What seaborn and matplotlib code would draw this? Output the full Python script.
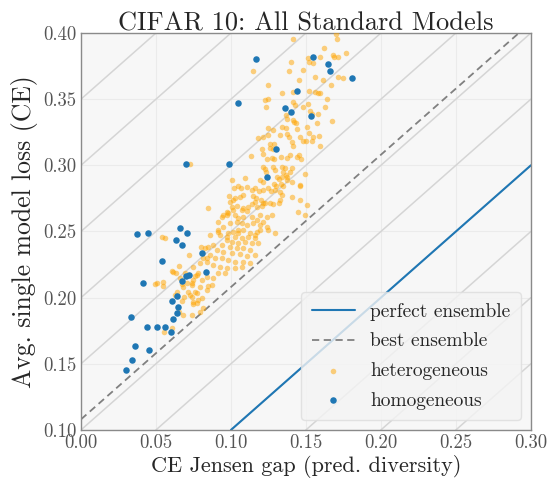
import numpy as np
import pandas as pd
import matplotlib
matplotlib.use('Agg')
import matplotlib.pyplot as plt
import seaborn as sns

# homogeneous ensembles (blue)
homo_gap = [0.1167, 0.1549, 0.1645, 0.1660, 0.1807, 0.1442, 0.1049, 0.1362, 0.1402, 0.1533,
            0.1303, 0.0698, 0.0988, 0.1243, 0.0375, 0.0448, 0.0662, 0.0705, 0.0635, 0.0675,
            0.0810, 0.0538, 0.0411, 0.0700, 0.0722, 0.0675, 0.0831, 0.0640, 0.0605, 0.0645,
            0.0640, 0.0615, 0.0333, 0.0438, 0.0509, 0.0558, 0.0600, 0.0362, 0.0455, 0.0337,
            0.0300]
homo_loss = [0.3802, 0.3817, 0.3769, 0.3711, 0.3658, 0.3565, 0.3473, 0.3434, 0.3402, 0.3376,
             0.3122, 0.3011, 0.3009, 0.2912, 0.2478, 0.2489, 0.2523, 0.2487, 0.2432, 0.2401,
             0.2336, 0.2275, 0.2113, 0.2166, 0.2168, 0.2122, 0.2192, 0.2013, 0.1975, 0.1932,
             0.1884, 0.1841, 0.1852, 0.1776, 0.1776, 0.1775, 0.1743, 0.1633, 0.1605, 0.1529,
             0.1455]

# heterogeneous ensembles (orange)
hetero_gap = [
    0.1700, 0.1709, 0.1415, 0.1620, 0.1515, 0.1593, 0.1678, 0.1687, 0.1715, 0.1765,
    0.1400, 0.1545, 0.1145, 0.1389, 0.1478, 0.1562, 0.1615, 0.1455, 0.1715, 0.1749,
    0.1245, 0.1665, 0.1342, 0.1522, 0.1562, 0.1582, 0.1593, 0.1642, 0.1229, 0.1247,
    0.1411, 0.1427, 0.1478, 0.1515, 0.1627, 0.1231, 0.1527, 0.1542, 0.1367, 0.1582,
    0.1375, 0.1411, 0.1420, 0.1433, 0.1571, 0.1671, 0.1342, 0.1442, 0.1505, 0.1375,
    0.1389, 0.1327, 0.1522, 0.1549, 0.1587, 0.1460, 0.1182, 0.1215, 0.1249, 0.1478,
    0.1500, 0.1538, 0.1409, 0.1593, 0.1260, 0.1287, 0.1415, 0.1411, 0.1367, 0.1249,
    0.1282, 0.1518,
    0.1131, 0.1209, 0.1211, 0.1260, 0.1282, 0.1238, 0.1271, 0.1289, 0.1331, 0.1371,
    0.1391, 0.1438, 0.1453, 0.1465, 0.1215, 0.1225, 0.1233, 0.1282, 0.1295, 0.1342,
    0.1349, 0.1409, 0.1491, 0.1367, 0.1375, 0.1093, 0.1007, 0.1193, 0.1211, 0.1305,
    0.1318, 0.1285, 0.1300, 0.1335, 0.1349, 0.1458, 0.1020, 0.1049, 0.1065, 0.1105,
    0.1142, 0.1160, 0.1189, 0.1215, 0.1249, 0.1265, 0.1293, 0.1327, 0.1338, 0.1405,
    0.0987, 0.1027, 0.1060, 0.1082, 0.1149, 0.1167, 0.1200, 0.1211, 0.1229, 0.1260,
    0.1282, 0.1322, 0.1005, 0.1038, 0.1082, 0.1115, 0.1138, 0.1158, 0.1175, 0.1205,
    0.1393, 0.1338, 0.1371, 0.1405, 0.1460, 0.1327, 0.1360,
    0.0727, 0.0849, 0.1015, 0.0938, 0.0971, 0.0993, 0.0982, 0.1015,
    0.1271, 0.1238, 0.1193, 0.1105, 0.1071, 0.0971, 0.1027, 0.1049, 0.1082, 0.1138,
    0.1171, 0.1215, 0.1238, 0.1193, 0.1149, 0.1105, 0.1071, 0.1038, 0.0993, 0.0949,
    0.0915, 0.0927, 0.0971, 0.1015, 0.1049, 0.1082, 0.1127, 0.1160, 0.1193, 0.1249,
    0.1293, 0.0949, 0.0915, 0.1449, 0.1493, 0.1505, 0.1460,
    0.0915, 0.0982, 0.1049, 0.1171, 0.1027, 0.1071, 0.1115, 0.1160, 0.0971, 0.1005,
    0.1049, 0.1093, 0.1138, 0.1182, 0.0938, 0.0993, 0.1038, 0.1082, 0.1127, 0.0882,
    0.0905, 0.0949, 0.1005, 0.1060, 0.1105, 0.1160, 0.0860, 0.0893, 0.0938, 0.0982,
    0.1027, 0.1082, 0.1127, 0.0838, 0.0882, 0.0927, 0.0971, 0.1027, 0.1071, 0.0915,
    0.0960, 0.0827, 0.0815, 0.0793, 0.0749, 0.0722, 0.0771, 0.0805, 0.0838, 0.0882,
    0.0871, 0.0838, 0.0793, 0.0749, 0.0738, 0.0771, 0.0805, 0.0771, 0.0749, 0.0782,
    0.0738, 0.0760, 0.0715, 0.0682, 0.0705, 0.0615, 0.0633, 0.0660, 0.0549, 0.0538,
    0.0560, 0.0860, 0.0849, 0.0738, 0.0793, 0.0815, 0.0682, 0.0605,
    0.0800, 0.0838, 0.0651, 0.0605, 0.0693, 0.0760, 0.0782, 0.0742, 0.0493, 0.0505,
    0.0549, 0.0671, 0.0849, 0.0727, 0.0638, 0.0627, 0.0689, 0.0745, 0.0671, 0.0653,
    0.0555,
]
hetero_loss = [
    0.3990, 0.3958, 0.3955, 0.3887, 0.3812, 0.3817, 0.3832, 0.3817, 0.3819, 0.3849,
    0.3784, 0.3776, 0.3711, 0.3711, 0.3723, 0.3668, 0.3643, 0.3643, 0.3668, 0.3660,
    0.3607, 0.3605, 0.3545, 0.3560, 0.3555, 0.3547, 0.3549, 0.3504, 0.3496, 0.3502,
    0.3481, 0.3454, 0.3443, 0.3464, 0.3441, 0.3439, 0.3409, 0.3391, 0.3378, 0.3388,
    0.3353, 0.3343, 0.3328, 0.3323, 0.3320, 0.3333, 0.3292, 0.3277, 0.3288, 0.3237,
    0.3212, 0.3227, 0.3247, 0.3214, 0.3220, 0.3212, 0.3207, 0.3217, 0.3227, 0.3186,
    0.3184, 0.3186, 0.3174, 0.3144, 0.3159, 0.3159, 0.3144, 0.3557, 0.3280, 0.3280,
    0.3267, 0.3784,
    0.3071, 0.3121, 0.3088, 0.3129, 0.3121, 0.3046, 0.3053, 0.3046, 0.3066, 0.3053,
    0.3078, 0.3066, 0.3081, 0.3050, 0.2985, 0.2973, 0.2950, 0.2988, 0.2965, 0.2988,
    0.2952, 0.2978, 0.2935, 0.2927, 0.2914, 0.2907, 0.2889, 0.2889, 0.2872, 0.2910,
    0.2897, 0.2859, 0.2842, 0.2859, 0.2844, 0.2846, 0.2827, 0.2844, 0.2831, 0.2839,
    0.2814, 0.2827, 0.2806, 0.2814, 0.2827, 0.2806, 0.2814, 0.2801, 0.2776, 0.2763,
    0.2771, 0.2751, 0.2763, 0.2776, 0.2768, 0.2751, 0.2738, 0.2718, 0.2718, 0.2713,
    0.2706, 0.2713, 0.2688, 0.2695, 0.2676, 0.2688, 0.2708, 0.2725, 0.2688, 0.2693,
    0.2952, 0.2914, 0.2889, 0.2876, 0.2852, 0.2738, 0.2978,
    0.3010, 0.2680, 0.2738, 0.2612, 0.2650, 0.2725, 0.2638, 0.2663,
    0.2625, 0.2612, 0.2625, 0.2657, 0.2663, 0.2625, 0.2625, 0.2600, 0.2612, 0.2612,
    0.2587, 0.2574, 0.2536, 0.2549, 0.2562, 0.2549, 0.2562, 0.2574, 0.2562, 0.2536,
    0.2511, 0.2474, 0.2461, 0.2499, 0.2511, 0.2511, 0.2486, 0.2474, 0.2511, 0.2511,
    0.2486, 0.2625, 0.2574, 0.2650, 0.2625, 0.2700, 0.2738,
    0.2499, 0.2491, 0.2486, 0.2499, 0.2456, 0.2449, 0.2461, 0.2449, 0.2436, 0.2423,
    0.2411, 0.2423, 0.2411, 0.2411, 0.2398, 0.2385, 0.2373, 0.2373, 0.2360, 0.2398,
    0.2360, 0.2347, 0.2335, 0.2330, 0.2315, 0.2323, 0.2323, 0.2298, 0.2298, 0.2285,
    0.2272, 0.2272, 0.2260, 0.2272, 0.2247, 0.2234, 0.2222, 0.2222, 0.2234, 0.2184,
    0.2184, 0.2373, 0.2298, 0.2260, 0.2234, 0.2323, 0.2171, 0.2133, 0.2158, 0.2146,
    0.2096, 0.2058, 0.2083, 0.2133, 0.2096, 0.2033, 0.1995, 0.1957, 0.1969, 0.1982,
    0.2007, 0.2045, 0.2045, 0.2083, 0.2109, 0.2196, 0.2189, 0.2146, 0.2121, 0.2461,
    0.2449, 0.2474, 0.2385, 0.1869, 0.1894, 0.1920, 0.1869, 0.1768,
    0.2381, 0.2298, 0.2239, 0.2204, 0.2184, 0.2164, 0.2184, 0.2113, 0.2103, 0.2109,
    0.2088, 0.2101, 0.2088, 0.2020, 0.2041, 0.2020, 0.2003, 0.1952, 0.1972, 0.1894,
    0.1738,
]

best_offset = 0.108
contour_offsets = np.arange(-0.30, 0.45, 0.05)

sns.set_style('whitegrid', {'axes.facecolor': '#f7f7f7', 'grid.color': '#ebebeb',
                            'axes.edgecolor': '#8a8a8a'})
plt.rcParams['font.family'] = ['cmr10', 'DejaVu Serif']
plt.rcParams['mathtext.fontset'] = 'cm'
plt.rcParams['axes.formatter.use_mathtext'] = True

hetero = pd.DataFrame({'gap': hetero_gap, 'loss': hetero_loss})
homo = pd.DataFrame({'gap': homo_gap, 'loss': homo_loss})

fig = plt.figure(figsize=(5.49, 4.82), dpi=100)
ax = fig.add_axes([0.1475, 0.108, 0.8195, 0.8235])

# iso-ensemble-loss lines
for c in contour_offsets:
    ax.axline((0, c), slope=1, color='#d5d5d5', lw=1.1, zorder=1)

ax.axline((0, 0), slope=1, color='#1f77b4', lw=1.5, label='perfect ensemble', zorder=2)
ax.axline((0, best_offset), slope=1, color='#808080', lw=1.3, ls=(0, (4, 2.5)),
          label='best ensemble', zorder=2)

sns.scatterplot(data=hetero, x='gap', y='loss', ax=ax, color='orange', alpha=0.5,
                s=16, linewidth=0, label='heterogeneous', zorder=3)
sns.scatterplot(data=homo, x='gap', y='loss', ax=ax, color='#1f77b4', alpha=1,
                s=22, linewidth=0, label='homogeneous', zorder=4)

ax.set_xlim(0, 0.3)
ax.set_ylim(0.1, 0.4)
ax.set_xticks(np.arange(0, 0.31, 0.05))
ax.set_yticks(np.arange(0.1, 0.41, 0.05))
ax.xaxis.set_major_formatter(matplotlib.ticker.FormatStrFormatter('%.2f'))
ax.yaxis.set_major_formatter(matplotlib.ticker.FormatStrFormatter('%.2f'))
ax.tick_params(labelsize=13.5, labelcolor='#555555', length=0)
ax.tick_params(axis='x', pad=3)
ax.tick_params(axis='y', pad=3)
for sp in ax.spines.values():
    sp.set_linewidth(1.0)

ax.set_xlabel('CE Jensen gap (pred. diversity)', fontsize=16, labelpad=2)
ax.set_ylabel('Avg. single model loss (CE)', fontsize=18.5, labelpad=4)
ax.set_title('CIFAR 10: All Standard Models', fontsize=19, pad=2)

leg = ax.legend(loc='lower right', fontsize=14, frameon=True, framealpha=0.8,
                facecolor='#f4f4f4', edgecolor='#dddddd', borderpad=0.55,
                handlelength=2.2, markerscale=1.0, labelspacing=0.6)

fig.savefig('out.png', dpi=100)
